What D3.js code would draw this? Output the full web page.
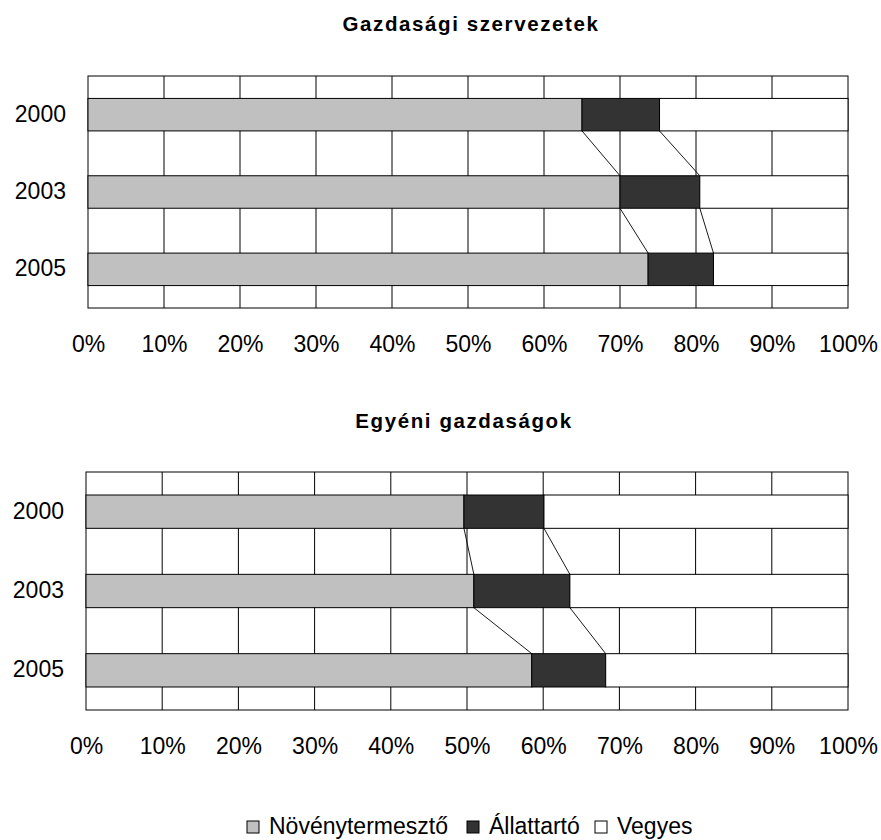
<!DOCTYPE html>
<html>
<head>
<meta charset="utf-8">
<script src="https://cdn.jsdelivr.net/npm/d3@7"></script>
<style>
  body { margin: 0; background: #fff; }
  svg { display: block; font-family: "Liberation Sans", Arial, sans-serif; }
</style>
</head>
<body>
<svg id="chart" width="881" height="840"></svg>
<script>
// Categories and series (percent shares)
const years = ["2000", "2003", "2005"];
const seriesNames = ["Növénytermesztő", "Állattartó", "Vegyes"];
const seriesColors = ["#C0C0C0", "#333333", "#FFFFFF"];
const xTicks = [0, 10, 20, 30, 40, 50, 60, 70, 80, 90, 100];

const gazdNoveny = [65.0, 70.0, 73.7];
const gazdAllat = [10.2, 10.5, 8.6];
const gazdVegyes = [24.8, 19.5, 17.7];

const egyeniNoveny = [49.6, 50.9, 58.5];
const egyeniAllat = [10.5, 12.6, 9.7];
const egyeniVegyes = [39.9, 36.5, 31.8];

const svg = d3.select("#chart");

// Build one stacked panel
function drawPanel(opts) {
    const { title, series, left, right, top, bottom, titleX, titleY, tickY } = opts;

    // rows for d3.stack
    const rows = years.map((y, i) => {
        const row = { year: y };
        seriesNames.forEach((s, k) => { row[s] = series[k][i]; });
        return row;
    });
    const stacked = d3.stack()
        .keys(seriesNames)
        .offset(d3.stackOffsetExpand)(rows);

    const x = d3.scaleLinear().domain([0, 1]).range([left, right]);
    const xPct = d3.scaleLinear().domain([0, 100]).range([left, right]);
    const y = d3.scaleBand()
        .domain(years)
        .range([top, bottom])
        .paddingInner(0.58)
        .paddingOuter(0.29);

    const g = svg.append("g");

    // Title
    g.append("text")
        .attr("x", titleX)
        .attr("y", titleY)
        .attr("text-anchor", "middle")
        .attr("font-size", "20.5px")
        .attr("font-weight", "bold")
        .attr("letter-spacing", "1.6px")
        .attr("fill", "#000")
        .text(title);

    // Plot area frame
    g.append("rect")
        .attr("x", left)
        .attr("y", top)
        .attr("width", right - left)
        .attr("height", bottom - top)
        .attr("fill", "#fff")
        .attr("stroke", "#000")
        .attr("stroke-width", 1);

    // Vertical gridlines
    g.append("g")
        .selectAll("line")
        .data(xTicks.slice(1, -1))
        .join("line")
        .attr("x1", d => xPct(d))
        .attr("x2", d => xPct(d))
        .attr("y1", top)
        .attr("y2", bottom)
        .attr("stroke", "#000")
        .attr("stroke-width", 1);

    // Connector lines between bars at series boundaries
    const conn = [];
    for (let k = 0; k < stacked.length - 1; k++) {
        for (let i = 0; i < years.length - 1; i++) {
            conn.push({
                x1: x(stacked[k][i][1]),
                y1: y(years[i]) + y.bandwidth(),
                x2: x(stacked[k][i + 1][1]),
                y2: y(years[i + 1])
            });
        }
    }
    g.append("g")
        .selectAll("line")
        .data(conn)
        .join("line")
        .attr("x1", d => d.x1)
        .attr("y1", d => d.y1)
        .attr("x2", d => d.x2)
        .attr("y2", d => d.y2)
        .attr("stroke", "#000")
        .attr("stroke-width", 0.9);

    // Stacked bars
    g.append("g")
        .selectAll("g")
        .data(stacked)
        .join("g")
        .attr("fill", (d, k) => seriesColors[k])
        .selectAll("rect")
        .data(d => d)
        .join("rect")
        .attr("x", d => x(d[0]))
        .attr("y", d => y(d.data.year))
        .attr("width", d => x(d[1]) - x(d[0]))
        .attr("height", y.bandwidth())
        .attr("stroke", "#000")
        .attr("stroke-width", 1);

    // X axis labels
    const xAxis = g.append("g")
        .attr("transform", `translate(0, ${tickY})`)
        .call(d3.axisBottom(xPct).tickValues(xTicks).tickSize(0).tickFormat(d => d + "%"));
    xAxis.select(".domain").remove();
    xAxis.selectAll("text")
        .attr("y", 0)
        .attr("dy", null)
        .attr("font-size", "23px")
        .attr("font-family", "Liberation Sans, Arial, sans-serif")
        .attr("fill", "#000");

    // Y axis labels
    const yAxis = g.append("g")
        .attr("transform", `translate(${left}, 0)`)
        .call(d3.axisLeft(y).tickSize(0));
    yAxis.select(".domain").remove();
    yAxis.selectAll("text")
        .attr("x", -22)
        .attr("dy", "7px")
        .attr("font-size", "23px")
        .attr("font-family", "Liberation Sans, Arial, sans-serif")
        .attr("fill", "#000");
}

drawPanel({
    title: "Gazdasági szervezetek",
    series: [gazdNoveny, gazdAllat, gazdVegyes],
    left: 88, right: 848, top: 76, bottom: 308,
    titleX: 471, titleY: 31, tickY: 352
});

drawPanel({
    title: "Egyéni gazdaságok",
    series: [egyeniNoveny, egyeniAllat, egyeniVegyes],
    left: 86, right: 848, top: 472, bottom: 710,
    titleX: 464, titleY: 428, tickY: 754
});

// Legend
const legend = svg.append("g").attr("transform", "translate(0, 834)");
const legendX = [247, 467, 595];
const item = legend.selectAll("g")
    .data(seriesNames)
    .join("g")
    .attr("transform", (d, i) => `translate(${legendX[i]}, 0)`);
item.append("rect")
    .attr("x", 0)
    .attr("y", -13)
    .attr("width", 12)
    .attr("height", 12)
    .attr("fill", (d, i) => seriesColors[i])
    .attr("stroke", "#000")
    .attr("stroke-width", 1);
item.append("text")
    .attr("x", 22)
    .attr("y", 0)
    .attr("font-size", "23px")
    .attr("fill", "#000")
    .text(d => d);
</script>
</body>
</html>
